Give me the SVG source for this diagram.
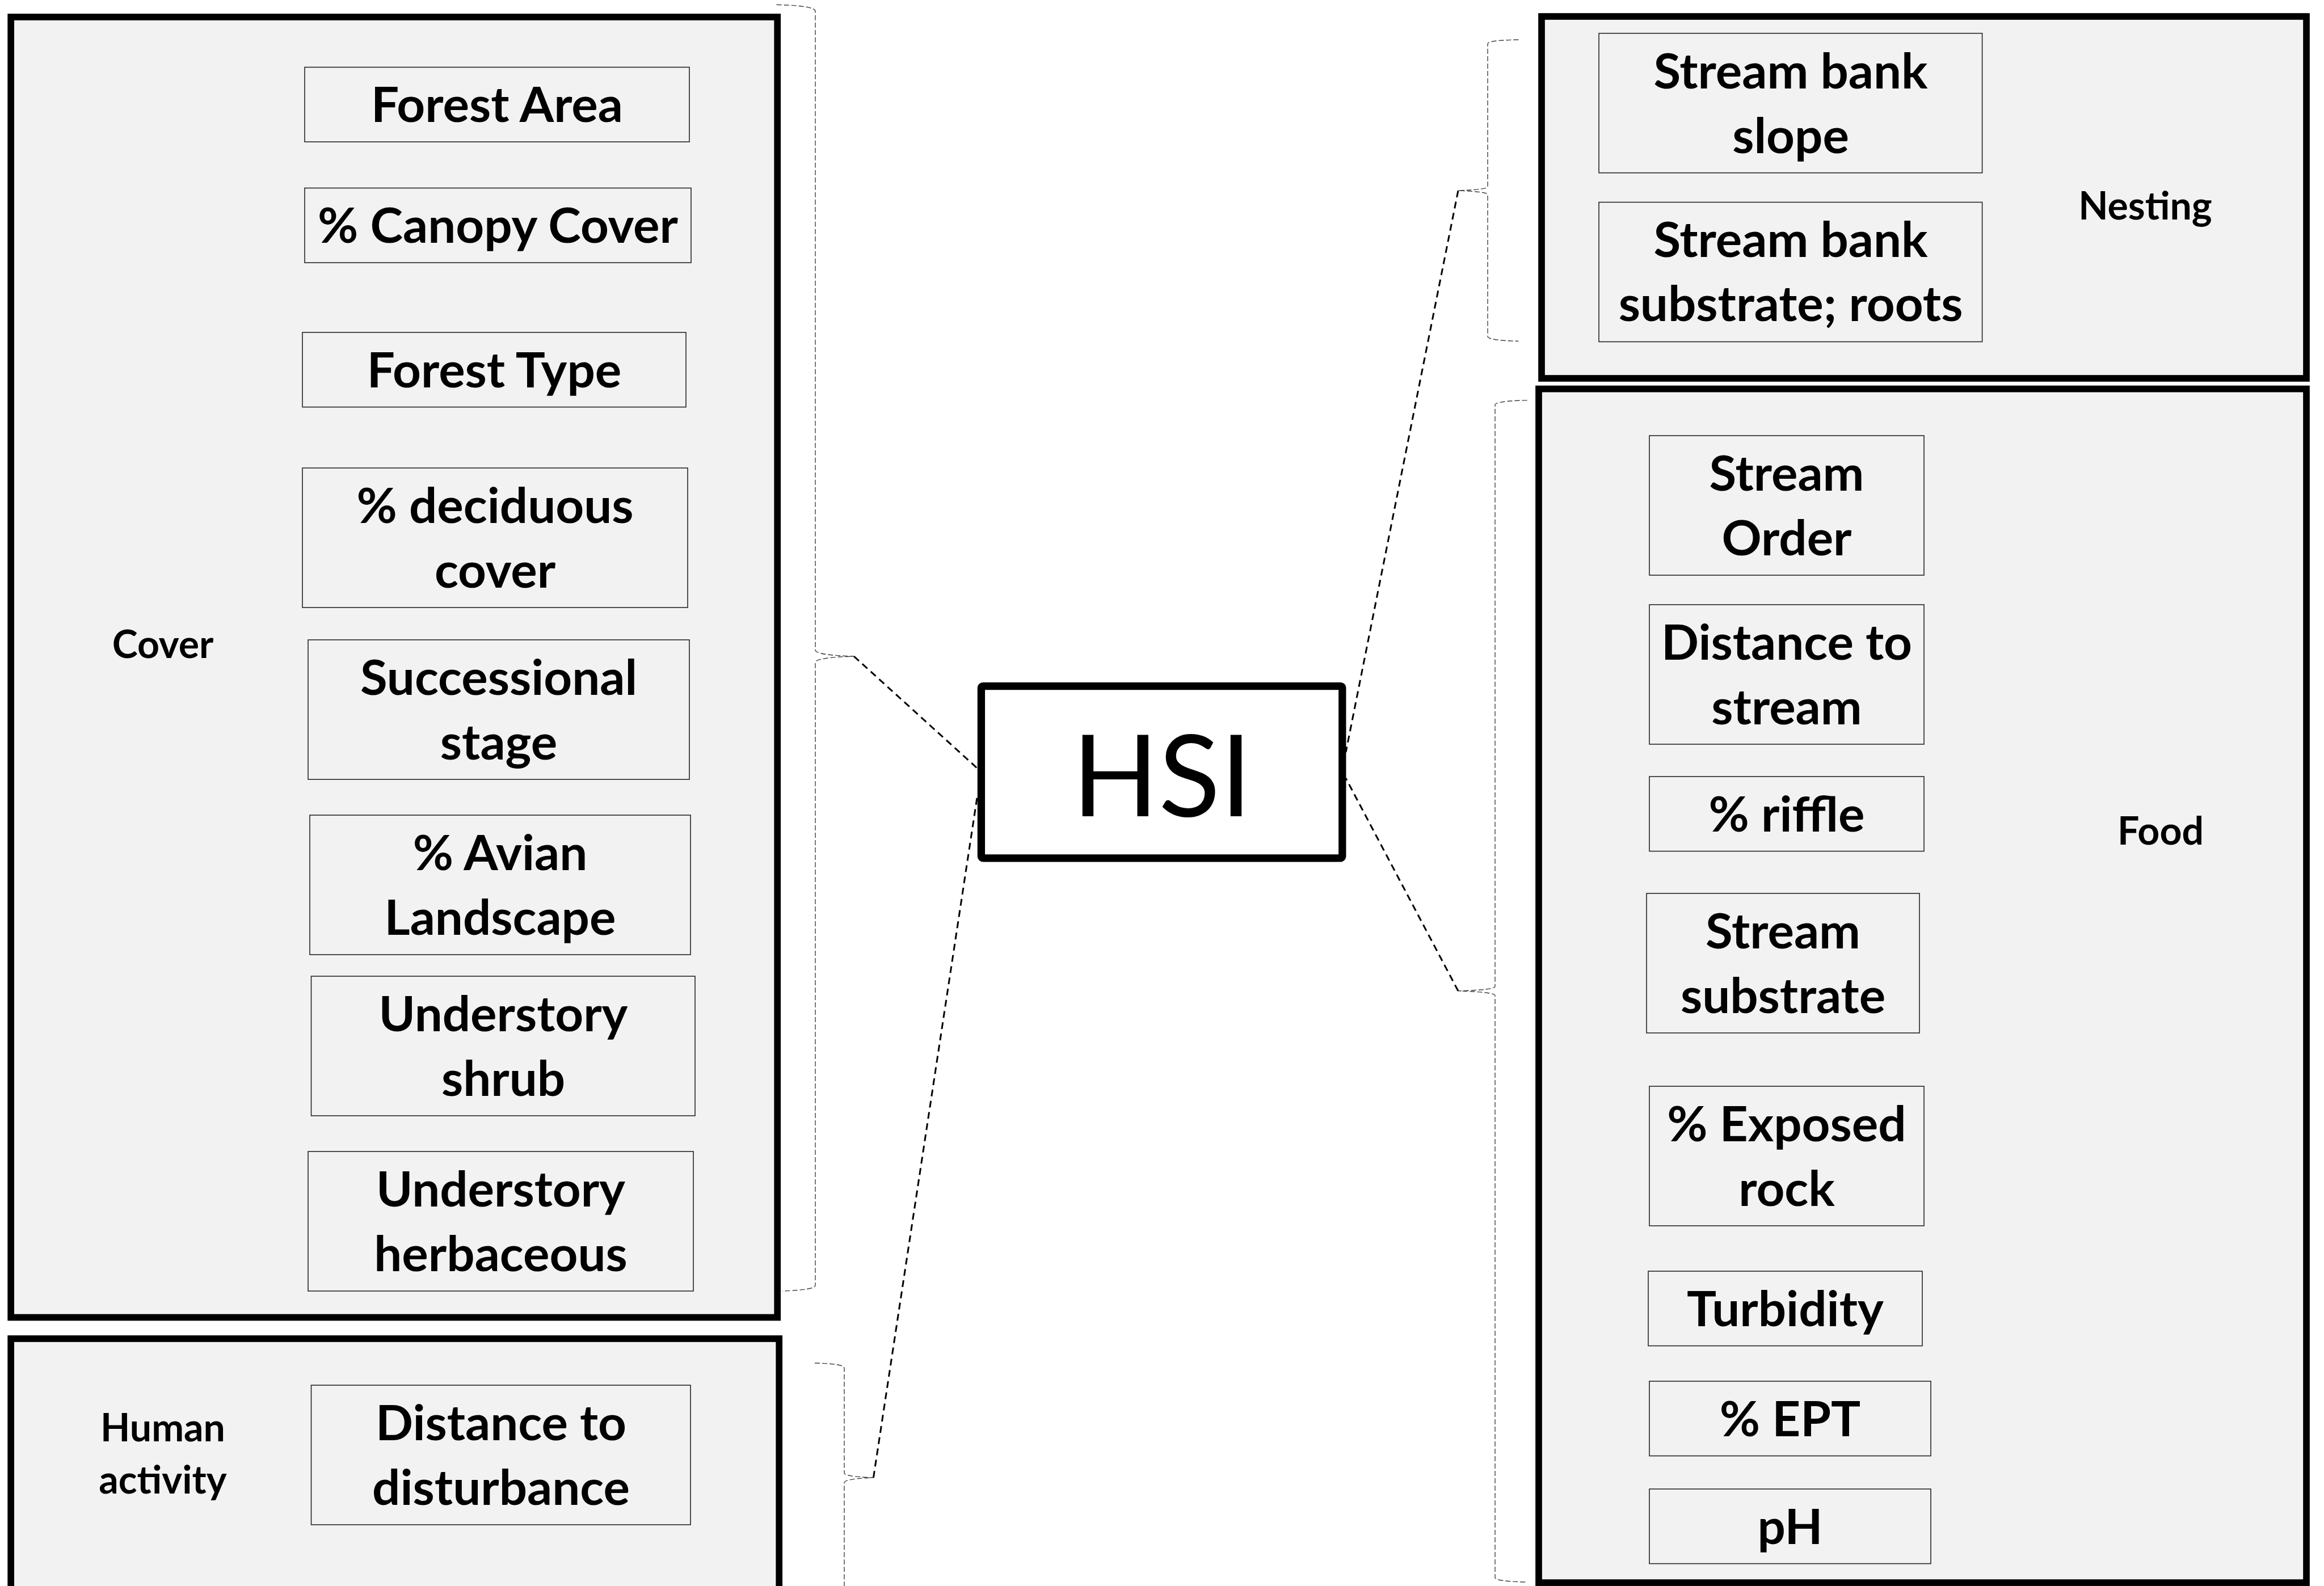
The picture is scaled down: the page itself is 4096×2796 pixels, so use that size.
<svg xmlns="http://www.w3.org/2000/svg" width="4096" height="2796" viewBox="0 0 4096 2796">
<style>
.grp{fill:#f2f2f2;stroke:#000;stroke-width:11.7}
.box{fill:#f2f2f2;stroke:#262626;stroke-width:1.6}
.hsi{fill:#fff;stroke:#000;stroke-width:13.3;stroke-linejoin:round}
.t{font-family:Lato,"Liberation Sans",sans-serif;font-weight:bold;font-size:87px;text-anchor:middle;fill:#000}
.lab{font-family:Lato,"Liberation Sans",sans-serif;font-weight:bold;font-size:68px;text-anchor:middle;fill:#000}
.big{font-family:Lato,"Liberation Sans",sans-serif;font-size:200px;text-anchor:middle;fill:#000}
.brace{fill:none;stroke:#404040;stroke-width:1.4;stroke-dasharray:9 4}
.conn{fill:none;stroke:#000;stroke-width:3;stroke-dasharray:12 8}
</style>
<rect width="4096" height="2796" fill="#fff"/>
<g id="cover">
<rect class="grp" x="19.2" y="30" width="1351" height="2292.5"/>
<text class="lab" x="287" y="1160">Cover</text>
</g>
<g id="human-activity">
<rect class="grp" x="19.2" y="2360" width="1354" height="540"/>
<text class="lab" x="287" y="2541">Human</text>
<text class="lab" x="287" y="2633">activity</text>
</g>
<g id="nesting">
<rect class="grp" x="2717" y="29" width="1348" height="638"/>
<text class="lab" x="3781" y="387">Nesting</text>
</g>
<g id="food">
<rect class="grp" x="2712" y="685.6" width="1353" height="2104.5"/>
<text class="lab" x="3808" y="1489">Food</text>
</g>
<g id="forest-area"><rect class="box" x="537" y="118.5" width="678" height="131.6"/><text class="t" x="876" y="215">Forest Area</text></g>
<g id="canopy-cover"><rect class="box" x="537" y="331.5" width="681" height="131.6"/><text class="t" x="877.5" y="428">% Canopy Cover</text></g>
<g id="forest-type"><rect class="box" x="533" y="586" width="676" height="131.6"/><text class="t" x="871" y="683">Forest Type</text></g>
<g id="deciduous-cover"><rect class="box" x="533" y="825" width="679" height="246"/><text class="t" x="872.5" y="922">% deciduous</text><text class="t" x="872.5" y="1036">cover</text></g>
<g id="successional-stage"><rect class="box" x="543" y="1128" width="672" height="246"/><text class="t" x="879" y="1225">Successional</text><text class="t" x="879" y="1339">stage</text></g>
<g id="avian-landscape"><rect class="box" x="546" y="1437" width="671" height="246"/><text class="t" x="881.5" y="1534">% Avian</text><text class="t" x="881.5" y="1648">Landscape</text></g>
<g id="understory-shrub"><rect class="box" x="548.5" y="1721" width="676.5" height="246"/><text class="t" x="887" y="1818">Understory</text><text class="t" x="887" y="1932">shrub</text></g>
<g id="understory-herbaceous"><rect class="box" x="543" y="2030" width="679" height="246"/><text class="t" x="882.5" y="2127">Understory</text><text class="t" x="882.5" y="2241">herbaceous</text></g>
<g id="distance-disturbance"><rect class="box" x="548.5" y="2442" width="668.5" height="246"/><text class="t" x="883" y="2539">Distance to</text><text class="t" x="883" y="2653">disturbance</text></g>
<g id="bank-slope"><rect class="box" x="2818" y="58.7" width="675.6" height="246"/><text class="t" x="3156" y="156">Stream bank</text><text class="t" x="3156" y="270">slope</text></g>
<g id="bank-substrate"><rect class="box" x="2818" y="356.5" width="675.6" height="246"/><text class="t" x="3156" y="453">Stream bank</text><text class="t" x="3156" y="566">substrate; roots</text></g>
<g id="stream-order"><rect class="box" x="2907" y="768" width="484" height="246"/><text class="t" x="3149" y="865">Stream</text><text class="t" x="3149" y="979">Order</text></g>
<g id="distance-stream"><rect class="box" x="2907" y="1066" width="484" height="246"/><text class="t" x="3149" y="1163">Distance to</text><text class="t" x="3149" y="1277">stream</text></g>
<g id="riffle"><rect class="box" x="2907" y="1369" width="484" height="131.6"/><text class="t" x="3149" y="1466">% riffle</text></g>
<g id="stream-substrate"><rect class="box" x="2902" y="1575" width="481" height="246"/><text class="t" x="3142.5" y="1672">Stream</text><text class="t" x="3142.5" y="1786">substrate</text></g>
<g id="exposed-rock"><rect class="box" x="2907" y="1915" width="484" height="246"/><text class="t" x="3149" y="2012">% Exposed</text><text class="t" x="3149" y="2126">rock</text></g>
<g id="turbidity"><rect class="box" x="2905" y="2241" width="483" height="131.6"/><text class="t" x="3146.5" y="2338">Turbidity</text></g>
<g id="ept"><rect class="box" x="2907" y="2435" width="496" height="131.6"/><text class="t" x="3155" y="2532">% EPT</text></g>
<g id="ph"><rect class="box" x="2907" y="2625" width="496" height="131.6"/><text class="t" x="3155" y="2722">pH</text></g>
<g id="hsi">
<rect class="hsi" x="1729.4" y="1209.6" width="636.4" height="303.2" rx="3"/>
<text class="big" x="2048" y="1439">HSI</text>
</g>
<g id="connectors">
<path class="brace" d="M1368.6,8.3 Q1437,10 1437,20 L1437,1146 Q1437,1155 1505,1157 Q1437,1159 1437,1168 L1437,2266 Q1437,2274 1378.6,2276"/>
<path class="brace" d="M1436,2403 Q1488,2404 1488,2412 L1488,2597 Q1488,2603 1539.4,2605 Q1488,2607 1488,2614 L1488,2800"/>
<path class="brace" d="M2676.5,70 Q2622,71 2622,77 L2622,329 Q2622,334 2570,336 Q2622,338 2622,343 L2622,593 Q2622,600 2676.5,601.5"/>
<path class="brace" d="M2691.5,705.6 Q2635,707 2635,714 L2635,1739 Q2635,1745 2570,1747 Q2635,1749 2635,1755 L2635,2781 Q2635,2788 2691.5,2789"/>
<path class="conn" d="M1505,1157 L1722,1354"/>
<path class="conn" d="M1539.4,2605 L1722.7,1402"/>
<path class="conn" d="M2570,336 L2372,1326"/>
<path class="conn" d="M2570,1747 L2372,1372"/>
</g>
</svg>
